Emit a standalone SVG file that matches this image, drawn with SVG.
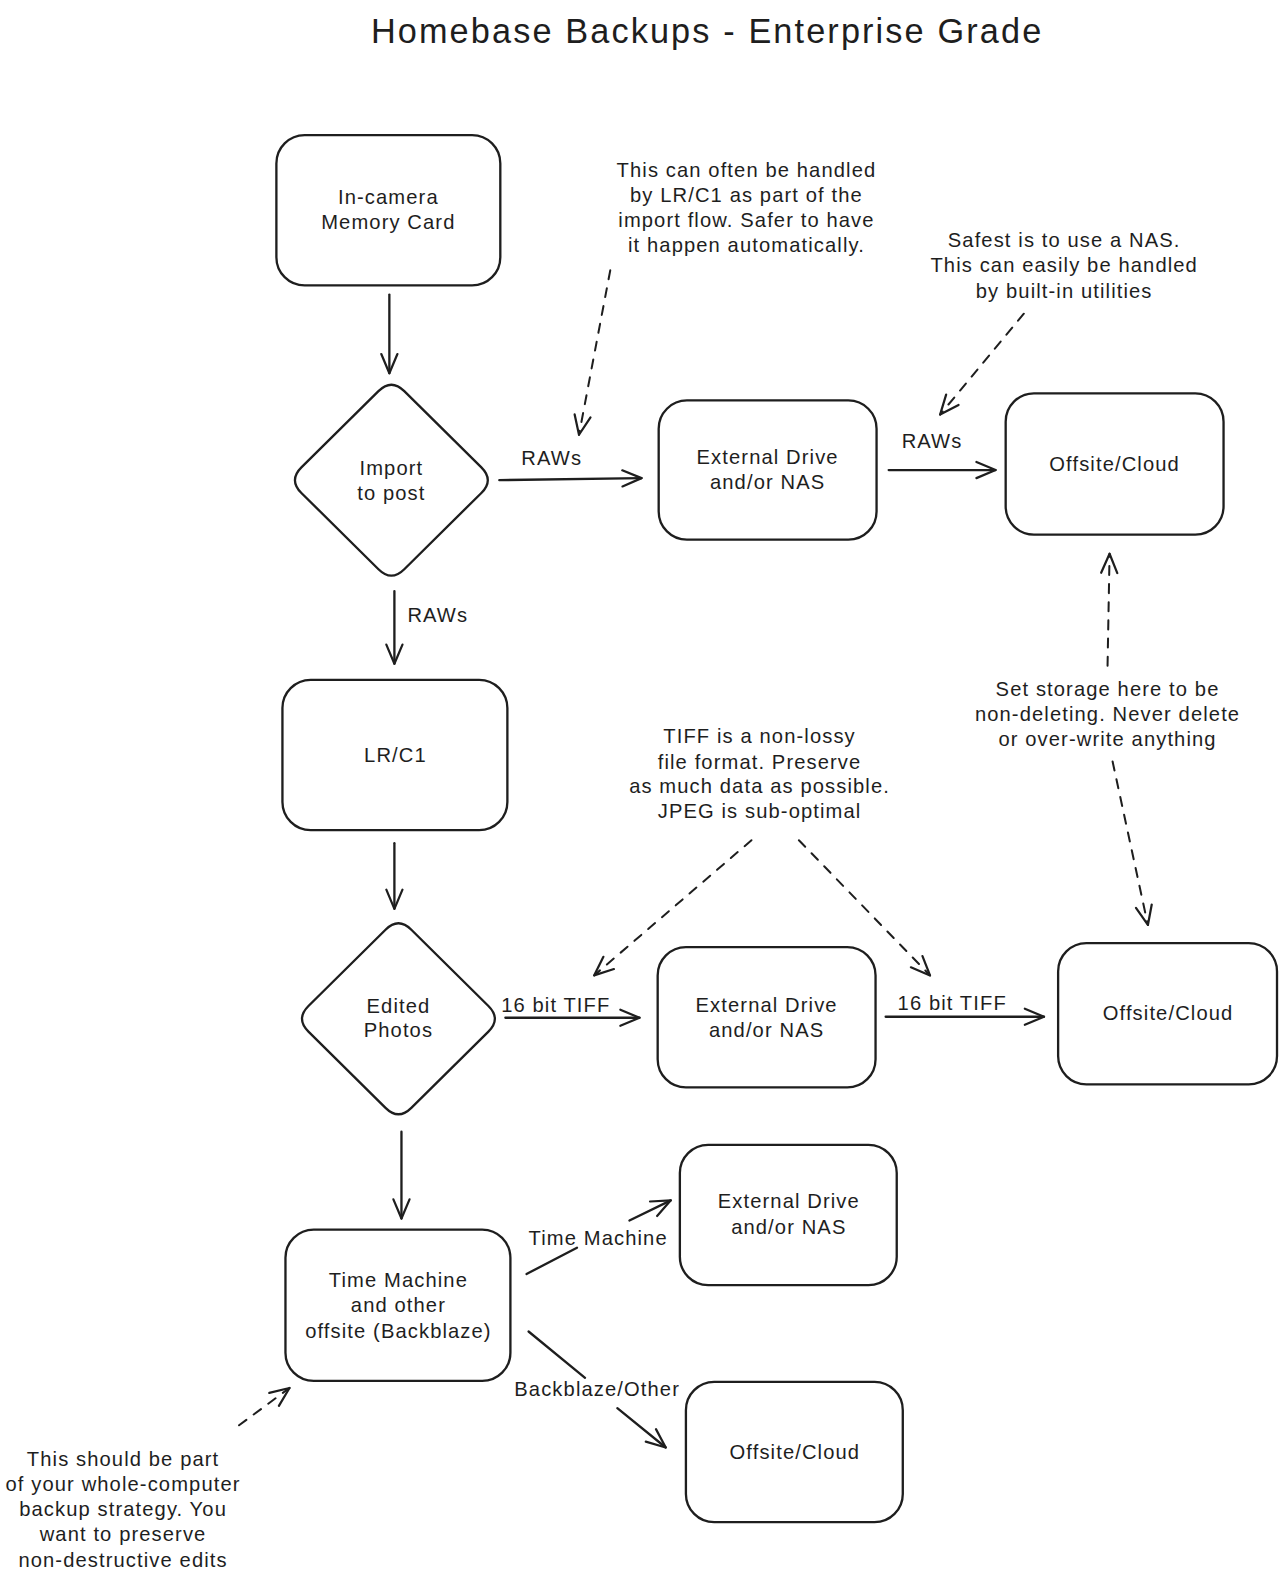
<svg xmlns="http://www.w3.org/2000/svg" width="1287" height="1581" viewBox="0 0 1287 1581">
<defs>
<marker id="arr" viewBox="0 0 24 20" refX="21" refY="10" markerWidth="24" markerHeight="20" markerUnits="userSpaceOnUse" orient="auto">
<path d="M2,2 L21,10 L2,18" fill="none" stroke="#1e1e1e" stroke-width="2.2" stroke-linecap="round" stroke-linejoin="round"/>
</marker>
</defs>
<style>
.box{fill:none;stroke:#1e1e1e;stroke-width:2.3}
.t{font-family:"Liberation Sans",Arial,sans-serif;font-size:20px;fill:#1e1e1e;text-anchor:middle;letter-spacing:1.1px}
.title{font-family:"Liberation Sans",Arial,sans-serif;font-size:34px;fill:#1e1e1e;text-anchor:middle;letter-spacing:2.1px}
.ln{fill:none;stroke:#1e1e1e;stroke-width:2.3;stroke-linecap:round}
.dash{fill:none;stroke:#1e1e1e;stroke-width:2;stroke-dasharray:9 9;stroke-linecap:round}
</style>
<rect width="1287" height="1581" fill="#ffffff"/>
<g transform="scale(1.0087)">
<text class="title" x="701" y="43">Homebase Backups - Enterprise Grade</text>

<g id="memory-card">
<rect class="box" x="274" y="134" width="222" height="149" rx="28"/>
<text class="t" x="385" y="202">In-camera</text>
<text class="t" x="385" y="227">Memory Card</text>
</g>
<g id="import">
<path class="box" d="M375.2,387.7 Q388,375 400.8,387.7 L477.2,463.3 Q490,476 477.2,488.7 L400.8,564.3 Q388,577 375.2,564.3 L298.8,488.7 Q286,476 298.8,463.3 Z"/>
<text class="t" x="388" y="471">Import</text>
<text class="t" x="388" y="496">to post</text>
</g>
<g id="ext1">
<rect class="box" x="653" y="397" width="216" height="138" rx="28"/>
<text class="t" x="761" y="460">External Drive</text>
<text class="t" x="761" y="485">and/or NAS</text>
</g>
<g id="cloud1">
<rect class="box" x="997" y="390" width="216" height="140" rx="28"/>
<text class="t" x="1105" y="467">Offsite/Cloud</text>
</g>
<g id="lrc1">
<rect class="box" x="280" y="674" width="223" height="149" rx="28"/>
<text class="t" x="392" y="755">LR/C1</text>
</g>
<g id="edited">
<path class="box" transform="translate(7,534)" d="M375.2,387.7 Q388,375 400.8,387.7 L477.2,463.3 Q490,476 477.2,488.7 L400.8,564.3 Q388,577 375.2,564.3 L298.8,488.7 Q286,476 298.8,463.3 Z"/>
<text class="t" x="395" y="1004">Edited</text>
<text class="t" x="395" y="1028">Photos</text>
</g>
<g id="ext2">
<rect class="box" x="652" y="939" width="216" height="139" rx="28"/>
<text class="t" x="760" y="1003">External Drive</text>
<text class="t" x="760" y="1028">and/or NAS</text>
</g>
<g id="cloud2">
<rect class="box" x="1049" y="935" width="217" height="140" rx="28"/>
<text class="t" x="1158" y="1011">Offsite/Cloud</text>
</g>
<g id="timemachine">
<rect class="box" x="283" y="1219" width="223" height="150" rx="28"/>
<text class="t" x="395" y="1276">Time Machine</text>
<text class="t" x="395" y="1301">and other</text>
<text class="t" x="395" y="1326">offsite (Backblaze)</text>
</g>
<g id="ext3">
<rect class="box" x="674" y="1135" width="215" height="139" rx="28"/>
<text class="t" x="782" y="1198">External Drive</text>
<text class="t" x="782" y="1223">and/or NAS</text>
</g>
<g id="cloud3">
<rect class="box" x="680" y="1370" width="215" height="139" rx="28"/>
<text class="t" x="788" y="1446">Offsite/Cloud</text>
</g>

<g id="notes">
<text class="t" x="740" y="175">This can often be handled</text>
<text class="t" x="740" y="200">by LR/C1 as part of the</text>
<text class="t" x="740" y="225">import flow. Safer to have</text>
<text class="t" x="740" y="250">it happen automatically.</text>
<text class="t" x="1055" y="245">Safest is to use a NAS.</text>
<text class="t" x="1055" y="270">This can easily be handled</text>
<text class="t" x="1055" y="295">by built-in utilities</text>
<text class="t" x="1098" y="690">Set storage here to be</text>
<text class="t" x="1098" y="715">non-deleting. Never delete</text>
<text class="t" x="1098" y="740">or over-write anything</text>
<text class="t" x="753" y="737">TIFF is a non-lossy</text>
<text class="t" x="753" y="762">file format. Preserve</text>
<text class="t" x="753" y="786">as much data as possible.</text>
<text class="t" x="753" y="811">JPEG is sub-optimal</text>
<text class="t" x="122" y="1453">This should be part</text>
<text class="t" x="122" y="1478">of your whole-computer</text>
<text class="t" x="122" y="1503">backup strategy. You</text>
<text class="t" x="122" y="1528">want to preserve</text>
<text class="t" x="122" y="1553">non-destructive edits</text>
</g>

<g id="connectors">
<line class="ln" x1="386" y1="292" x2="386" y2="370" marker-end="url(#arr)"/>
<line class="ln" x1="495" y1="476" x2="636" y2="474" marker-end="url(#arr)"/>
<text class="t" x="547" y="461">RAWs</text>
<line class="ln" x1="881" y1="466" x2="987" y2="466" marker-end="url(#arr)"/>
<text class="t" x="924" y="444">RAWs</text>
<line class="ln" x1="391" y1="586" x2="391" y2="658" marker-end="url(#arr)"/>
<text class="t" x="434" y="617">RAWs</text>
<line class="ln" x1="391" y1="836" x2="391" y2="901" marker-end="url(#arr)"/>
<line class="ln" x1="501" y1="1009" x2="634" y2="1009" marker-end="url(#arr)"/>
<text class="t" x="551" y="1003">16 bit TIFF</text>
<line class="ln" x1="878" y1="1008" x2="1035" y2="1008" marker-end="url(#arr)"/>
<text class="t" x="944" y="1001">16 bit TIFF</text>
<line class="ln" x1="398" y1="1122" x2="398" y2="1208" marker-end="url(#arr)"/>
<line class="ln" x1="522" y1="1263" x2="572" y2="1237"/>
<line class="ln" x1="624" y1="1210" x2="665" y2="1190" marker-end="url(#arr)"/>
<text class="t" x="593" y="1234">Time Machine</text>
<line class="ln" x1="524" y1="1320" x2="580" y2="1366"/>
<line class="ln" x1="612" y1="1396" x2="660" y2="1435" marker-end="url(#arr)"/>
<text class="t" x="592" y="1384">Backblaze/Other</text>
<line class="dash" x1="605" y1="268" x2="574" y2="431" marker-end="url(#arr)"/>
<line class="dash" x1="1015" y1="311" x2="932" y2="411" marker-end="url(#arr)"/>
<line class="dash" x1="1098" y1="660" x2="1100" y2="549" marker-end="url(#arr)"/>
<line class="dash" x1="1103" y1="755" x2="1138" y2="917" marker-end="url(#arr)"/>
<line class="dash" x1="745" y1="833" x2="589" y2="967" marker-end="url(#arr)"/>
<line class="dash" x1="792" y1="833" x2="922" y2="967" marker-end="url(#arr)"/>
<line class="dash" x1="237" y1="1413" x2="287" y2="1376" marker-end="url(#arr)"/>
</g>
</g>
</svg>
